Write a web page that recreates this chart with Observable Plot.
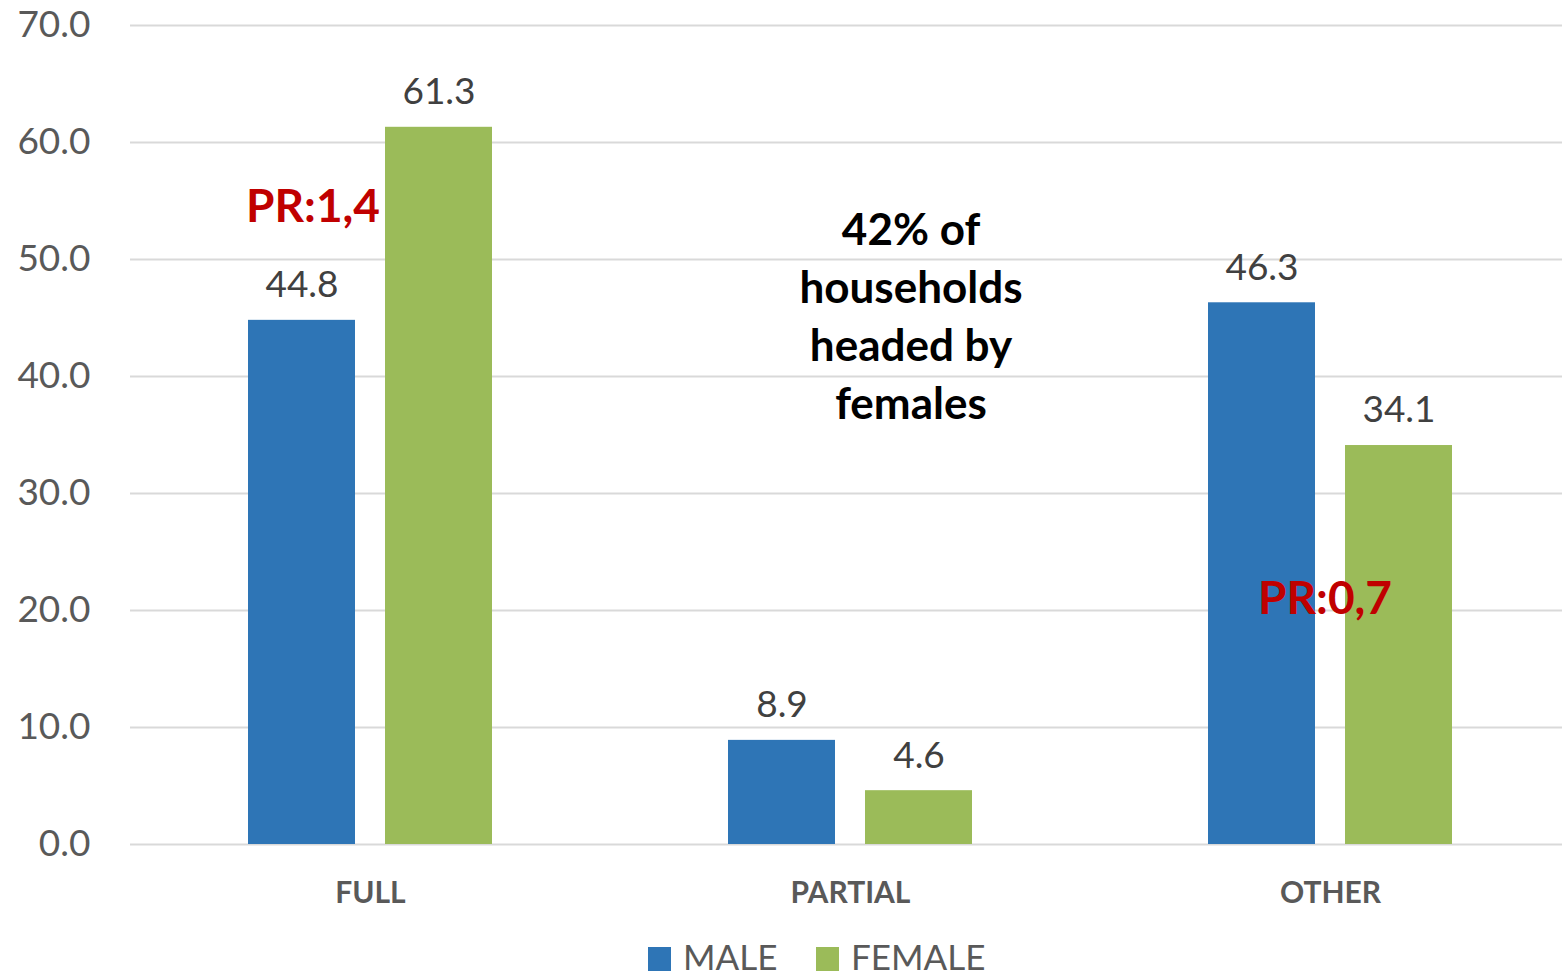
<!DOCTYPE html>
<html>
<head>
<meta charset="utf-8">
<script src="https://cdn.jsdelivr.net/npm/d3@7"></script>
<script src="https://cdn.jsdelivr.net/npm/@observablehq/plot@0.6"></script>
<style>
  body { margin: 0; background: #fff; font-family: Lato, "Open Sans", sans-serif; }
  #chart svg { display: block; }
  #chart svg [aria-label^="y-axis"] text { font-size: 37px; fill: #595959; }
  #chart svg [aria-label^="fx-axis"] text { font-size: 30px; font-weight: bold; fill: #595959; }
  #legend { position: relative; height: 44px; width: 1562px; }
  .sw { position: absolute; top: 17px; width: 23px; height: 24px; }
  .lb { position: absolute; top: 9px; font-size: 35px; color: #595959; line-height: 35px; height: 35px; }
</style>
</head>
<body>
<div id="chart"></div>
<div id="legend">
  <div class="sw" style="left:648px;background:#2E75B6"></div>
  <div class="lb" style="left:683px">MALE</div>
  <div class="sw" style="left:816px;background:#9BBB59"></div>
  <div class="lb" style="left:851px">FEMALE</div>
</div>
<script>
// Share of households by type, split by sex of household head
const categories = ["FULL", "PARTIAL", "OTHER"];
const sexes = ["MALE", "FEMALE"];
const maleValues = [44.8, 8.9, 46.3];
const femaleValues = [61.3, 4.6, 34.1];
const yTicks = [0, 10, 20, 30, 40, 50, 60, 70];

// Parity-ratio callouts (drawn on the MALE row of each category)
const prLabels = ["PR:1,4", null, "PR:0,7"];
const prLevels = [54.5, null, 21.0];
// Central note (drawn on the FEMALE row of PARTIAL)
const noteText = [null, "42% of\nhouseholds\nheaded by\nfemales", null];
const noteLevels = [null, 45.4, null];

const colors = {MALE: "#2E75B6", FEMALE: "#9BBB59"};

const data = categories.flatMap((category, i) => [
  {category, sex: "MALE", value: maleValues[i], pr: prLabels[i], prY: prLevels[i], note: null, noteY: null},
  {category, sex: "FEMALE", value: femaleValues[i], pr: null, prY: null, note: noteText[i], noteY: noteLevels[i]}
]);

const chart = Plot.plot({
  width: 1562,
  height: 930,
  marginLeft: 130,
  marginRight: 0,
  marginTop: 25,
  marginBottom: 86,
  style: {fontFamily: "Lato, 'Open Sans', sans-serif", background: "#fff"},
  facet: {data, x: "category"},
  fx: {domain: categories, range: [130, 1570], padding: 0, axis: "bottom", tickSize: 0, tickPadding: 37, label: null},
  x: {domain: sexes, range: [248, 492], paddingInner: 0.219, paddingOuter: 0, axis: null},
  y: {domain: [0, 70], ticks: yTicks, tickFormat: d3.format(".1f"), tickSize: 0, tickPadding: 40, label: null},
  marks: [
    Plot.ruleY(yTicks, {stroke: "#d9d9d9", strokeWidth: 2}),
    Plot.barY(data, {x: "sex", y: "value", fill: d => colors[d.sex]}),
    Plot.text(data, {x: "sex", y: "value", text: d => d.value.toFixed(1), dy: -35,
      fontSize: 37, fill: "#404040", lineAnchor: "middle"}),
    Plot.text(data, {filter: d => d.pr && d.category === "FULL", x: "sex", y: "prY", text: "pr", dx: 11,
      fontSize: 46, fontWeight: "bold", fill: "#C00000", lineAnchor: "middle"}),
    Plot.text(data, {filter: d => d.pr && d.category === "OTHER", x: "sex", y: "prY", text: "pr", dx: 63,
      fontSize: 46, fontWeight: "bold", fill: "#C00000", lineAnchor: "middle"}),
    Plot.text(data, {filter: d => d.note, x: "sex", y: "noteY", text: "note", dx: -8,
      fontSize: 44, fontWeight: "bold", fill: "#000", lineAnchor: "middle", lineHeight: 1.32})
  ]
});
document.getElementById("chart").appendChild(chart);
</script>
</body>
</html>
